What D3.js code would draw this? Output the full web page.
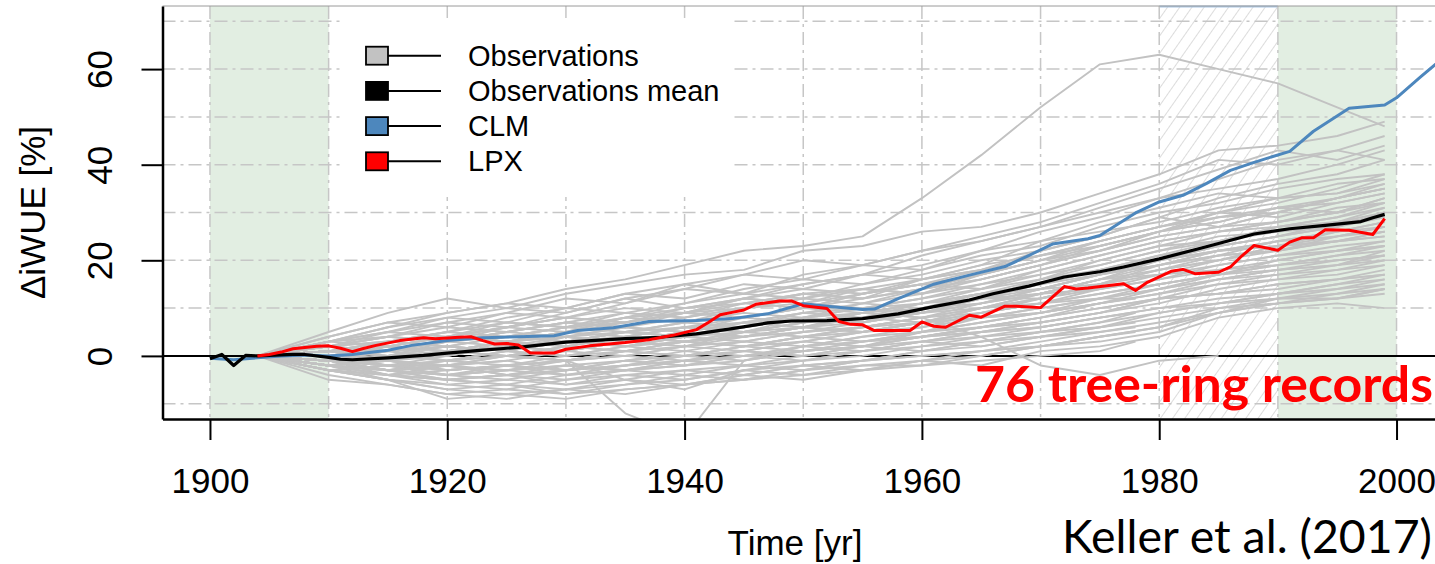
<!DOCTYPE html>
<html>
<head>
<meta charset="utf-8">
<script src="https://cdn.jsdelivr.net/npm/d3@7"></script>
<style>
  body { margin: 0; background: #fff; }
  svg { display: block; }
</style>
</head>
<body>
<svg id="chart" width="1435" height="564"></svg>
<script>
// ---- data -------------------------------------------------------------
// Sampling years of the tree-ring records (full and shorter records)
const obsYears = [1904, 1910, 1915, 1920, 1925, 1930, 1935, 1940, 1945, 1950,
                  1955, 1960, 1965, 1970, 1975, 1980, 1985, 1990, 1995, 1999];
const obsYearsShort = [1904, 1910, 1915, 1920, 1925, 1930, 1935, 1940, 1945, 1950,
                       1955, 1960, 1965, 1970, 1975, 1978];

// ΔiWUE [%] of each tree-ring record
const observations = [
  [0,3,6,9,11,14,16,19,22,23,25,33,42,52,61,63,60,57,52,48],
  [0,5,9,12,10,13,15,17,18,22,23,26,27,30,34,38,43,44,46,49],
  [0,4,7,6,9,12,11,14,17,20,19,22,25,28,32,36,41,40,43,46],
  [0,2,5,8,7,10,13,12,15,14,17,21,24,27,31,35,39,43,41,44],
  [0,3,4,7,9,8,11,15,13,17,19,18,22,26,29,33,37,41,43,41],
  [0,1,3,5,8,10,9,11,14,16,15,18,21,23,27,30,32,35,37,38],
  [0,2,4,3,6,9,12,10,12,15,17,16,19,24,26,28,31,33,34,36],
  [0,-1,2,4,6,5,8,11,13,12,15,17,20,22,25,29,27,30,33,35],
  [0,3,5,4,7,6,9,8,11,13,12,16,18,21,24,27,30,29,32,34],
  [0,1,0,3,5,7,6,9,10,13,14,13,17,20,23,26,28,31,30,33],
  [0,2,1,2,4,6,8,7,10,12,11,14,16,19,22,25,27,28,31,32],
  [0,0,2,1,3,5,7,9,8,10,13,15,14,18,21,24,26,27,29,31],
  [0,-1,1,2,1,4,5,4,7,9,8,11,13,15,18,21,23,25,27,30],
  [0,1,-1,0,3,2,4,6,5,8,10,9,12,16,18,20,22,24,26,28],
  [0,-2,0,1,3,4,3,5,7,6,9,11,13,14,17,19,22,23,25,27],
  [0,0,-2,-1,1,3,2,4,6,8,7,10,12,13,16,18,21,24,25,26],
  [0,-1,-2,0,2,1,3,2,5,7,9,8,11,14,15,18,20,22,24,25],
  [0,1,0,-1,0,2,4,3,4,6,8,10,11,13,16,17,19,21,23,24],
  [0,-2,-3,-1,0,1,3,5,4,6,7,9,12,12,14,17,18,20,22,23],
  [0,-1,-1,-2,-1,1,0,2,4,5,6,8,10,13,14,16,18,19,21,22],
  [0,0,-2,-3,-2,0,1,3,2,4,6,7,9,11,13,15,17,19,20,21],
  [0,-2,-4,-3,-2,-1,1,0,2,3,5,7,8,10,12,14,16,18,19,20],
  [0,-1,-3,-4,-3,-2,-1,1,0,2,4,5,7,9,11,13,15,16,18,19],
  [0,-3,-4,-5,-4,-3,-2,-1,1,0,2,4,6,7,9,12,13,15,16,18],
  [0,-2,-3,-5,-6,-4,-3,-2,-1,1,2,3,4,6,8,10,12,13,15,17],
  [0,-1,-4,-6,-5,-6,-4,-3,-2,-1,0,2,3,5,7,9,11,12,14,16],
  [0,-3,-5,-6,-7,-5,-4,-5,-3,-2,-1,1,2,4,6,8,10,11,13,15],
  [0,-2,-5,-7,-8,-7,-6,-4,-5,-3,-1,0,1,3,5,7,9,11,12,14],
  [0,-4,-6,-8,-7,-8,-6,-5,-3,-4,-2,-1,1,2,4,6,9,12,13,14],
  [0,-3,-5,-9,-8,-9,-7,-6,-5,-3,-2,-2,0,2,3,5,9,11,12,13],
  [0,-5,-6,-8,-9,-7,-8,-6,-4,-5,-3,-1,-2,1,2,4,8,10,11,10],
  [0,1,2,1,0,-1,-12,-17,-1,2,3,4,6,8,10,12,13,15,16,17],
  [0,-1,0,-1,-2,-1,-5,-7,-3,-1,1,3,5,6,8,10,11,13,14,15],
  [0,2,3,5,4,6,7,9,8,10,9,8,4,-2,-4,-1,0,null,null,null],
  [0,1,3,2,4,3,5,7,6,9,10,12,14,17,19,22,25,26,28,29],
  [0,-1,1,3,2,4,6,5,7,8,10,11,13,16,20,23,24,27,28,30],
  [0,2,4,6,5,7,6,8,10,11,10,12,15,18,21,24,26,28,30,32],
  [0,0,1,-1,1,0,2,1,3,5,6,8,9,12,15,19,22,23,26,27],
  [0,-1,-2,-2,0,-1,0,2,3,2,4,6,9,11,14,16,19,21,22,24],
  [0,1,0,1,3,4,2,4,5,7,8,7,10,12,15,18,20,23,24,26],
  [0,-2,-1,-3,-2,-1,1,2,1,3,5,6,8,9,11,14,17,18,20,21],
  [0,-3,-4,-2,-3,-4,-2,-1,0,1,3,4,5,7,9,11,14,16,17,19],
  [0,2,1,3,5,4,6,5,8,10,12,14,16,19,22,26,29,31,32,34],
  [0,3,6,8,10,9,12,14,13,15,17,19,22,24,28,31,34,33,36,37],
  [0,1,2,4,3,5,8,9,11,10,13,15,17,20,24,27,29,30,33,35],
  [0,-1,-3,-4,-5,-3,-2,0,-1,1,2,4,6,8,10,12,15,17,18,20],
  [0,-2,-3,-2,-4,-2,-3,-2,0,2,1,3,5,7,9,12,13,14,16,17],
  [0,0,-1,1,0,2,1,3,4,6,5,7,9,11,13,15,17,20,22,23],
  [0,1,2,0,2,3,4,6,8,7,9,10,12,15,17,19,21,22,24,25],
  [0,-1,0,2,1,3,2,4,3,5,7,9,11,13,16,20,23,25,28,31],
  [0,2,3,4,6,8,7,10,12,14,13,16,18,22,25,29,33,36,38,41],
  [0,-2,-4,-5,-6,-7,-5,-6,-4,-2,-3,-1,0,2,4,6,10,12,12,14],
  [0,-1,-3,-5,-4,-5,-3,-4,-2,-3,-1,1,3,4,6,9,11,13,15,16],
  [0,1,-1,-2,0,-1,1,0,2,4,3,5,8,10,12,14,16,17,19,21],
  [0,3,5,7,6,8,10,9,12,11,14,16,19,21,23,26,28,31,33,36],
  [0,2,1,3,4,6,5,7,9,8,11,13,15,17,20,23,26,28,30,33],
  [0,-1,1,0,2,3,5,4,6,8,9,11,14,16,19,22,24,27,29,32],
  [0,1,3,5,7,6,8,10,11,13,12,14,17,20,22,25,27,30,33,35],
  [0,-2,-1,1,0,2,1,3,5,4,6,8,10,13,16,19,21,22,25,27],
  [0,0,2,4,3,5,4,6,7,9,11,10,13,15,18,21,24,26,27,29],
  [0,-3,-2,-4,-3,-1,0,-1,1,3,2,5,7,9,12,15,17,19,21,23],
  [0,1,-1,1,2,1,3,5,4,6,8,9,11,14,17,20,22,24,26,28],
  [0,2,4,3,5,7,9,8,10,12,14,13,16,19,23,26,30,32,35,38],
  [0,-1,-2,-1,1,0,2,3,2,4,5,7,10,12,15,17,20,23,24,26],
  [0,4,7,9,11,10,13,15,17,16,19,22,24,27,30,33,35,37,40,43],
  [0,-2,-3,-4,-2,-3,-1,0,2,1,3,5,6,8,11,13,16,18,19,22],
  [0,3,2,4,6,8,7,9,12,11,13,15,18,21,24,27,30,33,34,37],
  [0,0,1,2,1,3,5,6,5,7,9,11,12,14,17,20,23,25,27,30]
];
const observationsShort = [
  [0,-1,-3,-2,-4,-3,-1,-2,0,1,2,1,3,5,7,9],
  [0,-2,-4,-5,-4,-6,-5,-3,-4,-2,-1,0,1,2,4,5],
  [0,-3,-5,-7,-6,-8,-7,-6,-5,-4,-3,-2,-1,0,1,3],
  [0,1,0,2,1,3,5,4,6,8,7,9,10,11,12,12],
  [0,-1,-2,-4,-3,-2,-3,-1,0,-1,1,2,4,5,6,7],
  [0,-2,-1,-3,-2,-4,-3,-1,-2,0,1,3,2,4,5,6],
  [0,1,2,1,3,2,4,3,5,6,5,7,8,9,11,12],
  [0,-1,-3,-2,-1,-3,-2,0,1,0,2,4,5,6,8,9]
];

// Observations mean
const meanYears  = [1900,1901,1902,1903,1904,1905,1907,1908,1910,1911,1912,1915,1918,1920,1923,1926,1930,1935,1938,1941,
                    1944,1947,1949,1952,1955,1958,1961,1964,1966,1969,1972,1975,1977,1980,1983,1985,1988,1991,1994,1997,1998,1999];
const meanValues = [-0.6,0.3,-2.0,0.1,0.0,0.1,0.3,0.3,-0.3,-0.7,-0.8,-0.4,0.1,0.6,1.2,1.8,2.9,3.6,3.9,4.6,
                    5.7,6.9,7.3,7.4,7.8,8.8,10.3,11.7,13.0,14.6,16.5,17.6,18.6,20.3,22.2,23.5,25.5,26.6,27.3,28.1,28.9,29.6];

// CLM model
const clmYears  = [1900,1902,1904,1906,1908,1910,1912,1915,1917,1920,1923,1926,1929,1931,1934,1937,1941,1944,1947,1950,
                   1952,1955,1956,1958,1961,1964,1967,1969,1971,1974,1975,1978,1980,1982,1984,1986,1988,1991,1993,1996,
                   1999,2000,2002,2004];
const clmValues = [-0.5,-0.8,-0.4,0.0,0.2,0.0,0.3,1.2,2.2,3.2,3.8,4.0,4.2,5.3,5.9,7.2,7.4,7.8,8.8,10.9,
                   10.4,9.7,9.8,12.0,15.0,16.9,18.7,21.0,23.4,24.5,25.2,29.9,32.2,33.6,36.1,38.8,40.5,42.8,47.0,51.8,
                   52.5,54.0,58.3,62.5];

// LPX model
const lpxYears  = [1904,1905,1906,1907,1909,1910,1911,1912,1913,1914,1916,1918,1919,1921,1922,1923,1924,1925,1926,1927,
                   1929,1930,1932,1935,1937,1939,1941,1942,1943,1944,1945,1946,1948,1949,1950,1952,1953,1954,1955,1956,
                   1959,1960,1961,1962,1964,1965,1967,1968,1970,1971,1972,1973,1974,1977,1978,1979,1981,1982,1983,1985,
                   1986,1987,1988,1989,1990,1991,1992,1993,1994,1996,1998,1999];
const lpxValues = [0.0,0.3,0.8,1.5,2.0,2.1,1.6,0.9,1.6,2.2,3.2,3.8,3.6,3.9,4.0,3.2,2.5,2.6,2.3,0.6,
                   0.6,1.4,2.1,2.8,3.4,4.3,5.5,7.0,8.6,9.1,9.6,10.8,11.5,11.5,10.5,9.9,7.2,6.6,6.5,5.3,
                   5.3,7.1,6.2,6.0,8.5,8.1,10.4,10.4,10.1,12.3,14.5,14.0,14.2,15.1,13.7,15.4,17.7,18.1,17.2,17.5,
                   18.6,21.0,23.1,22.6,22.1,23.8,24.7,24.7,26.4,26.3,25.4,28.7];

// Axis ticks, grid and labels
const xTicks = [1900, 1920, 1940, 1960, 1980, 2000];
const yTicks = [0, 20, 40, 60];
const xGrid = [1900, 1910, 1920, 1930, 1940, 1950, 1960, 1970, 1980, 1990, 2000];
const yGrid = [-10, 10, 20, 30, 40, 50, 60, 70];
const greenPeriods = [[1900, 1910], [1990, 2000]];
const hatchPeriod = [1980, 1990];
const legendLabels = ["Observations", "Observations mean", "CLM", "LPX"];
const legendColors = ["#c2c2c2", "#000000", "#4d87bd", "#ff0000"];

// ---- layout -----------------------------------------------------------
const svg = d3.select("#chart");
const plot = { left: 162.5, right: 1444, top: 6, bottom: 419 };
const x = d3.scaleLinear().domain([1896, 2004]).range([plot.left, plot.right]);
const y = d3.scaleLinear().domain([-13.2, 73.2]).range([plot.bottom, plot.top]);
const sansFont = "'Liberation Sans', Arial, Helvetica, sans-serif";

const defs = svg.append("defs");
defs.append("clipPath").attr("id", "plotClip")
  .append("rect")
  .attr("x", plot.left).attr("y", plot.top)
  .attr("width", plot.right - plot.left).attr("height", plot.bottom - plot.top);

const hatch = defs.append("pattern")
  .attr("id", "hatch")
  .attr("patternUnits", "userSpaceOnUse")
  .attr("width", 10).attr("height", 10)
  .attr("patternTransform", "rotate(35)");
hatch.append("line")
  .attr("x1", 0).attr("y1", 0).attr("x2", 0).attr("y2", 10)
  .attr("stroke", "#c9c9c9").attr("stroke-width", 1.3);

// Shaded reference periods
svg.append("g").selectAll("rect")
  .data(greenPeriods)
  .join("rect")
  .attr("x", d => x(d[0]))
  .attr("y", plot.top)
  .attr("width", d => x(d[1]) - x(d[0]))
  .attr("height", plot.bottom - plot.top)
  .attr("fill", "#e2eee2");

svg.append("rect")
  .attr("x", x(hatchPeriod[0]))
  .attr("y", plot.top)
  .attr("width", x(hatchPeriod[1]) - x(hatchPeriod[0]))
  .attr("height", plot.bottom - plot.top)
  .attr("fill", "url(#hatch)");
svg.append("line")
  .attr("x1", x(hatchPeriod[0])).attr("x2", x(hatchPeriod[1]))
  .attr("y1", plot.top + 0.5).attr("y2", plot.top + 0.5)
  .attr("stroke", "#a9c6e4").attr("stroke-width", 2);

// Dash-dotted grid
const gridDash = "13,5,3,5";
const grid = svg.append("g").attr("stroke", "#c6c6c6").attr("stroke-width", 1.5)
  .attr("stroke-dasharray", gridDash).attr("fill", "none");
grid.selectAll("line.v").data(xGrid).join("line").attr("class", "v")
  .attr("x1", d => x(d)).attr("x2", d => x(d))
  .attr("y1", plot.top).attr("y2", plot.bottom);
grid.selectAll("line.h").data(yGrid).join("line").attr("class", "h")
  .attr("x1", plot.left).attr("x2", plot.right)
  .attr("y1", d => y(d)).attr("y2", d => y(d));

// Top frame edge
svg.append("line")
  .attr("x1", plot.left).attr("x2", plot.right)
  .attr("y1", plot.top).attr("y2", plot.top)
  .attr("stroke", "#9a9a9a").attr("stroke-width", 1);

// Zero reference line
svg.append("line")
  .attr("x1", plot.left).attr("x2", plot.right)
  .attr("y1", y(0)).attr("y2", y(0))
  .attr("stroke", "#000").attr("stroke-width", 2);

// ---- series -----------------------------------------------------------
const line = d3.line()
  .defined(d => d[1] !== null)
  .x(d => x(d[0]))
  .y(d => y(d[1]));

const series = svg.append("g").attr("clip-path", "url(#plotClip)").attr("fill", "none")
  .attr("stroke-linejoin", "round");

const obsPaths = observations.map(v => v.map((val, i) => [obsYears[i], val]))
  .concat(observationsShort.map(v => v.map((val, i) => [obsYearsShort[i], val])));

series.append("g")
  .attr("stroke", legendColors[0]).attr("stroke-width", 1.9)
  .selectAll("path").data(obsPaths).join("path")
  .attr("d", line);

const zip = (ys, vs) => ys.map((yr, i) => [yr, vs[i]]);
series.append("path").datum(zip(clmYears, clmValues))
  .attr("d", line).attr("stroke", legendColors[2]).attr("stroke-width", 3);
series.append("path").datum(zip(meanYears, meanValues))
  .attr("d", line).attr("stroke", legendColors[1]).attr("stroke-width", 3.2);
series.append("path").datum(zip(lpxYears, lpxValues))
  .attr("d", line).attr("stroke", legendColors[3]).attr("stroke-width", 3);

// ---- legend -----------------------------------------------------------
const legend = svg.append("g");
legend.append("rect")
  .attr("x", 340).attr("y", 18).attr("width", 391).attr("height", 179)
  .attr("fill", "#fff");
const rows = legend.selectAll("g.row").data(legendLabels).join("g")
  .attr("class", "row")
  .attr("transform", (d, i) => `translate(0, ${55.7 + i * 35.2})`);
rows.append("line")
  .attr("x1", 377).attr("x2", 441).attr("y1", 0).attr("y2", 0)
  .attr("stroke", "#000").attr("stroke-width", 2);
rows.append("rect")
  .attr("x", 366).attr("y", -9).attr("width", 22).attr("height", 18)
  .attr("fill", (d, i) => legendColors[i])
  .attr("stroke", "#000").attr("stroke-width", 1.8);
rows.append("text")
  .attr("x", 468).attr("y", 10)
  .attr("font-family", sansFont).attr("font-size", 29)
  .attr("fill", "#000")
  .text(d => d);

// ---- axes -------------------------------------------------------------
const xAxis = svg.append("g")
  .attr("transform", `translate(0, ${plot.bottom})`)
  .call(d3.axisBottom(x).tickValues(xTicks).tickFormat(d3.format("d"))
    .tickSize(21).tickSizeOuter(0).tickPadding(28));
xAxis.select(".domain").attr("stroke", "#000").attr("stroke-width", 2.5);
xAxis.selectAll(".tick line").attr("stroke", "#000").attr("stroke-width", 2);
xAxis.selectAll(".tick text")
  .attr("font-family", sansFont).attr("font-size", 35).attr("fill", "#000");

const yAxis = svg.append("g")
  .attr("transform", `translate(${plot.left}, 0)`)
  .call(d3.axisLeft(y).tickValues(yTicks).tickSize(21).tickSizeOuter(0));
yAxis.select(".domain").attr("stroke", "#000").attr("stroke-width", 2.5);
yAxis.selectAll(".tick line").attr("stroke", "#000").attr("stroke-width", 2);
yAxis.selectAll(".tick text")
  .attr("x", null).attr("dy", null)
  .attr("text-anchor", "middle")
  .attr("transform", "translate(-50.5, 0) rotate(-90)")
  .attr("font-family", sansFont).attr("font-size", 35).attr("fill", "#000");

// Axis titles
svg.append("text")
  .attr("transform", `translate(45, ${(plot.top + plot.bottom) / 2}) rotate(-90)`)
  .attr("text-anchor", "middle")
  .attr("font-family", sansFont).attr("font-size", 35).attr("fill", "#000")
  .text("ΔiWUE [%]");
svg.append("text")
  .attr("x", 795).attr("y", 555)
  .attr("text-anchor", "middle")
  .attr("font-family", sansFont).attr("font-size", 35).attr("fill", "#000")
  .text("Time [yr]");

// ---- annotations ------------------------------------------------------
svg.append("text")
  .attr("x", 975).attr("y", 402)
  .attr("textLength", 458).attr("lengthAdjust", "spacingAndGlyphs")
  .attr("font-family", "Lato, 'Open Sans', sans-serif").attr("font-weight", 700)
  .attr("font-size", 50).attr("fill", "#ff0000")
  .text("76 tree-ring records");
svg.append("text")
  .attr("x", 1062).attr("y", 553)
  .attr("textLength", 370).attr("lengthAdjust", "spacingAndGlyphs")
  .attr("font-family", "Lato, 'Open Sans', sans-serif")
  .attr("font-size", 46).attr("fill", "#000")
  .text("Keller et al. (2017)");
</script>
</body>
</html>
